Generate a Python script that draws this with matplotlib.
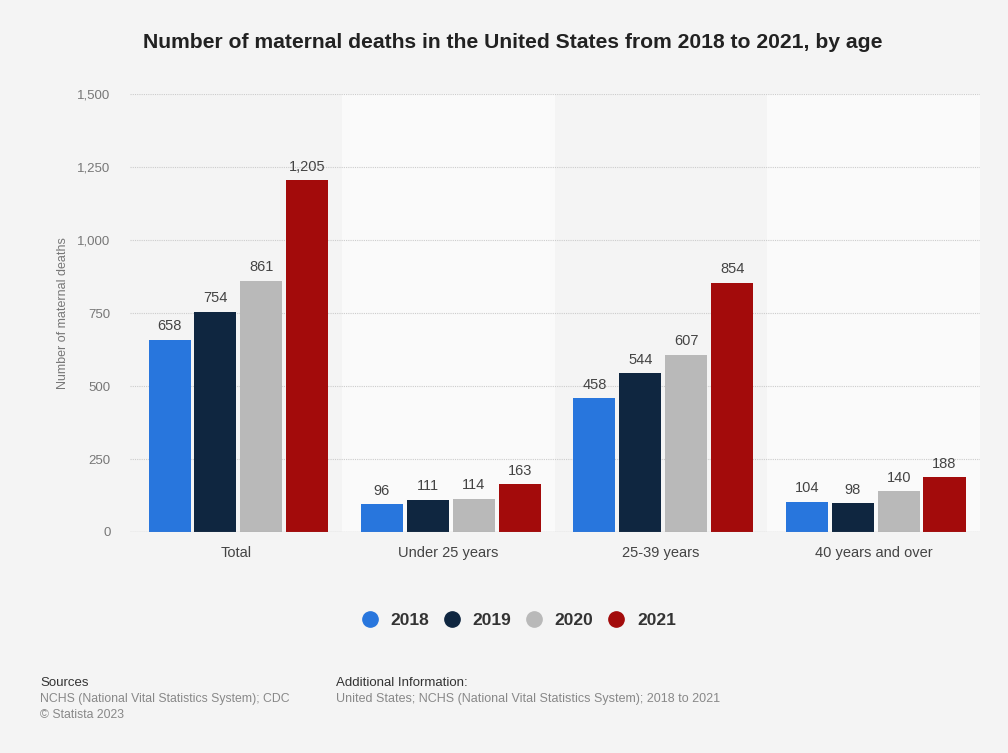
import matplotlib.pyplot as plt
from matplotlib.lines import Line2D
from matplotlib.patches import Rectangle
import numpy as np

plt.rcParams['font.family'] = ['Liberation Sans', 'DejaVu Sans']

categories = ['Total', 'Under 25 years', '25-39 years', '40 years and over']
years = ['2018', '2019', '2020', '2021']
deaths_2018 = [658, 96, 458, 104]
deaths_2019 = [754, 111, 544, 98]
deaths_2020 = [861, 114, 607, 140]
deaths_2021 = [1205, 163, 854, 188]
yticks = [0, 250, 500, 750, 1000, 1250, 1500]

series = [deaths_2018, deaths_2019, deaths_2020, deaths_2021]
colors = ['#2876dd', '#0f2640', '#b9b9b9', '#a30b0b']

fig = plt.figure(figsize=(10.08, 7.53), dpi=100)
fig.patch.set_facecolor('#f4f4f4')
ax = fig.add_axes([0.129, 0.2935, 0.843, 0.5815])
ax.set_facecolor('#f4f4f4')

x = np.arange(len(categories))
width = 0.198
step = 0.216

# lighter bands behind every other category
for i in range(len(categories)):
    if i % 2 == 1:
        ax.add_patch(Rectangle((i - 0.5, 0), 1, 1500, facecolor='#fafafa',
                               edgecolor='none', zorder=0))

for k, vals in enumerate(series):
    pos = x + (k - 1.5) * step + 0.01
    ax.bar(pos, vals, width, color=colors[k], zorder=3)
    for p, v in zip(pos, vals):
        ax.text(p, v + 22, f'{v:,}', ha='center', va='bottom',
                fontsize=10.5, color='#444444', zorder=4)

ax.set_xlim(-0.5, len(categories) - 0.5)
ax.set_ylim(0, 1500)
ax.set_yticks(yticks)
ax.set_yticklabels([f'{t:,}' for t in yticks], fontsize=9.5, color='#777777')
ax.set_xticks(x)
ax.set_xticklabels(categories, fontsize=10.5, color='#444444')
ax.tick_params(axis='y', length=0, pad=14)
ax.tick_params(axis='x', length=0, pad=10)
ax.yaxis.grid(True, linestyle=(0, (1, 1)), color='#cccccc', linewidth=0.8, zorder=1)
for s in ax.spines.values():
    s.set_visible(False)
ax.axhline(0, color='#999999', linewidth=0.8, zorder=4)

ax.set_ylabel('Number of maternal deaths', fontsize=9, color='#777777', labelpad=6)

fig.text(0.509, 0.943, 'Number of maternal deaths in the United States from 2018 to 2021, by age',
         ha='center', va='center', fontsize=15.2, fontweight='bold', color='#222222')

handles = [Line2D([0], [0], marker='o', linestyle='none', markersize=11,
                  markerfacecolor=c, markeredgecolor=c) for c in colors]
leg = fig.legend(handles, years, loc='center', bbox_to_anchor=(0.51, 0.176), ncol=4,
                 frameon=False, handletextpad=0.2, columnspacing=0.3,
                 prop={'weight': 'bold', 'size': 12.5})
for t in leg.get_texts():
    t.set_color('#333333')

fig.text(0.040, 0.093, 'Sources', fontsize=9.5, color='#333333', va='center')
fig.text(0.040, 0.072, 'NCHS (National Vital Statistics System); CDC', fontsize=8.8,
         color='#888888', va='center')
fig.text(0.040, 0.051, '\u00a9 Statista 2023', fontsize=8.8, color='#888888', va='center')
fig.text(0.333, 0.093, 'Additional Information:', fontsize=9.5, color='#333333', va='center')
fig.text(0.333, 0.072, 'United States; NCHS (National Vital Statistics System); 2018 to 2021',
         fontsize=9, color='#888888', va='center')

fig.savefig('out.png', dpi=100, facecolor=fig.get_facecolor())
